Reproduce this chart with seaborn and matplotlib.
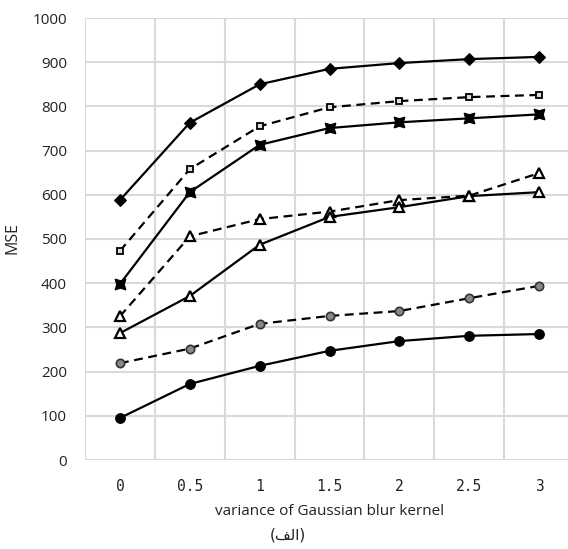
import numpy as np
import pandas as pd
import matplotlib
matplotlib.use("Agg")
import matplotlib.pyplot as plt
from matplotlib.ticker import FixedLocator, MultipleLocator
import seaborn as sns

categories = ["0", "0.5", "1", "1.5", "2", "2.5", "3"]
s_diamond = [588, 763, 850, 885, 898, 907, 912]
s_square = [473, 658, 755, 798, 812, 821, 826]
s_bowtie = [398, 606, 713, 751, 764, 773, 782]
s_tri_dash = [325, 506, 545, 562, 588, 598, 649]
s_tri_solid = [287, 371, 487, 550, 572, 597, 606]
s_circ_dash = [219, 252, 308, 326, 337, 366, 394]
s_circ_solid = [95, 172, 213, 247, 269, 281, 285]

sns.set_theme(style="white")
plt.rcParams['font.family'] = ['Open Sans', 'DejaVu Sans']

fig = plt.figure(figsize=(5.68, 5.49), dpi=100)
W, H = 568, 549
left, right, top, bottom = 85, 574, 18, 460
ax = fig.add_axes([left / W, (H - bottom) / H, (right - left) / W, (bottom - top) / H])

series = [
    (s_diamond, dict(marker="D", markersize=6.5, markerfacecolor="black", markeredgecolor="black"), "-"),
    (s_square, dict(marker="s", markersize=4.5, markerfacecolor="#dddddd", markeredgecolor="black", markeredgewidth=1.3), "--"),
    (s_bowtie, dict(marker=(4, 1, 45), markersize=11, markerfacecolor="black", markeredgecolor="black"), "-"),
    (s_tri_dash, dict(marker="^", markersize=7.5, markerfacecolor="white", markeredgecolor="black", markeredgewidth=1.6), "--"),
    (s_tri_solid, dict(marker="^", markersize=7.5, markerfacecolor="white", markeredgecolor="black", markeredgewidth=1.6), "-"),
    (s_circ_dash, dict(marker="o", markersize=6, markerfacecolor="#888888", markeredgecolor="#333333", markeredgewidth=1.2), "--"),
    (s_circ_solid, dict(marker="o", markersize=7, markerfacecolor="black", markeredgecolor="black"), "-"),
]

for vals, mk, ls in series:
    df = pd.DataFrame({"x": categories, "y": vals})
    sns.lineplot(data=df, x="x", y="y", ax=ax, color="black", linewidth=1.6,
                 linestyle=ls, dashes=False, sort=False, zorder=3, **mk)
    if ls == "--":
        ax.lines[-1].set_dashes((4, 2.5))

ax.set_xlim(-0.5, 6.5)
ax.set_ylim(0, 1000)
ax.yaxis.set_major_locator(MultipleLocator(100))
ax.xaxis.set_minor_locator(FixedLocator(np.arange(-0.5, 7.0, 1.0)))
ax.grid(False)
ax.grid(axis="y", which="major", color="#d9d9d9", linewidth=1.5, zorder=0)
ax.grid(axis="x", which="minor", color="#d9d9d9", linewidth=1.5, zorder=0)
for sp in ax.spines.values():
    sp.set_visible(False)
ax.tick_params(axis="both", which="both", length=0)
ax.tick_params(axis="y", pad=13, labelsize=11, labelcolor="#222222")
ax.tick_params(axis="x", pad=14, labelsize=10.5, labelcolor="#222222")
for lab in ax.get_xticklabels():
    lab.set_family("DejaVu Sans Mono")
for lab in ax.get_yticklabels():
    lab.set_family("Open Sans")

ax.set_xlabel("variance of Gaussian blur kernel", fontsize=11, color="#222222", labelpad=7)
ax.set_ylabel("MSE", fontsize=11.5, color="#222222")
ax.yaxis.set_label_coords((20 - left) / (right - left), (bottom - 238) / (bottom - top))

arabic = "(" + "\uFED2\uFEDF\u0627" + ")"
fig.text(288 / W, 1 - 535 / H, arabic, ha="center", va="center", fontsize=11,
         family=["DejaVu Sans"], color="#222222")

fig.savefig("out.png", dpi=100)
